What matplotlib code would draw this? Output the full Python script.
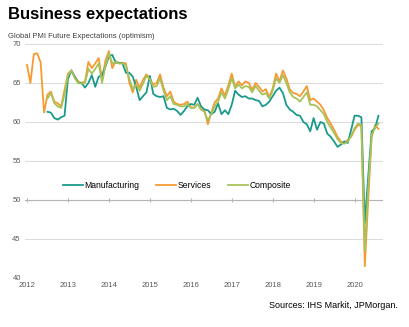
import numpy as np
import pandas as pd
import matplotlib
matplotlib.use("Agg")
import matplotlib.pyplot as plt

plt.rcParams['font.family'] = ['Liberation Sans', 'DejaVu Sans']

# monthly readings, Jan 2012 - Aug 2020
services = [67.3, 65.0, 68.7, 68.8, 67.6, 61.2, 63.5, 63.9, 62.6, 62.4, 62.0, 64.1,
            66.2, 66.6, 65.8, 65.2, 65.0, 65.2, 67.7, 66.9, 67.5, 68.2, 65.5, 67.9,
            69.1, 66.9, 67.8, 67.5, 67.6, 67.5, 65.0, 63.8, 65.4, 64.4, 65.4, 66.1,
            65.6, 64.8, 65.0, 66.1, 64.4, 63.3, 63.9, 62.6, 62.3, 62.2, 62.3, 62.6,
            61.9, 61.8, 62.3, 61.6, 61.5, 59.7, 61.2, 62.5, 63.0, 64.3, 63.4, 64.7,
            66.2, 64.5, 65.2, 64.7, 65.2, 65.0, 64.1, 65.0, 64.5, 63.9, 64.2, 63.2,
            64.3, 66.2, 65.2, 66.6, 65.6, 64.2, 63.7, 63.6, 63.3, 63.9, 64.6, 62.8,
            63.0, 62.6, 62.2, 61.5, 60.5, 59.8, 59.0, 58.1, 57.5, 57.3, 57.7, 58.1,
            59.0, 59.6, 59.5, 41.5, 50.0, 58.0, 59.6, 59.1]

nan = np.nan
manufacturing = [nan, nan, nan, nan, nan, nan, 61.3, 61.2, 60.5, 60.3, 60.6, 60.8,
                 65.5, 66.6, 65.8, 65.0, 65.0, 64.4, 65.0, 66.0, 64.5, 65.8, 66.0, 67.1,
                 68.4, 68.6, 67.6, 67.6, 67.5, 66.3, 66.3, 65.8, 64.5, 62.8, 63.3, 63.8,
                 65.9, 63.6, 63.3, 63.2, 63.3, 61.8, 61.6, 61.7, 61.4, 60.9, 61.4, 62.0,
                 62.3, 62.2, 63.1, 62.0, 61.6, 61.5, 61.0, 61.3, 62.4, 61.0, 61.5, 61.0,
                 62.2, 64.0, 63.5, 63.2, 63.3, 63.0, 63.0, 62.8, 62.7, 62.0, 62.2, 62.6,
                 63.3, 64.0, 64.4, 63.7, 62.2, 61.6, 61.3, 60.9, 60.8, 60.0, 59.7, 58.8,
                 60.5, 59.0, 60.0, 59.8, 58.5, 58.1, 57.5, 56.8, 57.1, 57.5, 57.3, 59.0,
                 60.8, 60.8, 60.6, 47.0, 53.0, 58.8, 59.2, 60.8]

composite = [nan, nan, nan, nan, nan, nan, 63.0, 63.7, 62.4, 62.0, 61.8, 63.5,
             66.0, 66.6, 65.6, 65.0, 64.9, 65.0, 66.8, 66.2, 66.8, 67.5, 65.0, 67.2,
             68.8, 67.5, 67.7, 67.5, 67.5, 67.3, 65.5, 64.2, 64.8, 64.0, 64.9, 65.9,
             65.5, 64.5, 64.6, 65.6, 64.0, 62.8, 63.3, 62.3, 62.2, 62.0, 62.0, 62.3,
             61.8, 61.8, 62.3, 61.6, 61.3, 60.2, 61.0, 62.0, 62.6, 63.8, 63.0, 64.2,
             65.6, 64.3, 64.8, 64.3, 64.6, 64.5, 63.8, 64.6, 64.0, 63.5, 63.7, 63.0,
             64.0, 65.6, 65.0, 66.0, 65.0, 63.8, 63.2, 63.0, 62.6, 63.2, 63.8, 62.2,
             62.2, 62.0, 61.5, 61.0, 60.0, 59.3, 58.6, 57.8, 57.3, 57.2, 57.5, 58.2,
             59.2, 59.8, 59.6, 43.5, 51.5, 58.3, 59.3, 59.8]

years = list(range(2012, 2021))
y_ticks = [40, 45, 50, 55, 60, 65, 70]

dates = pd.date_range('2012-01-01', periods=len(services), freq='MS')
x = dates.year + (dates.month - 1) / 12.0

fig = plt.figure(figsize=(4.09, 3.27), dpi=100)
ax = fig.add_axes([0.061, 0.150, 0.875, 0.7156])

for yv in y_ticks:
    ax.axhline(yv, color='#dcdcdc', lw=0.8, zorder=0)
ax.axhline(50, color='#b5b5b5', lw=0.8, zorder=1)
ax.vlines(years, 49.75, 50.25, color='#b5b5b5', lw=0.8, zorder=1)

ax.plot(x, manufacturing, color='#1b9a8c', lw=1.3, label='Manufacturing', zorder=3)
ax.plot(x, services, color='#f59b32', lw=1.3, label='Services', zorder=2)
ax.plot(x, composite, color='#a8c25a', lw=1.3, label='Composite', zorder=4)

ax.set_xlim(2011.95, 2020.69)
ax.set_ylim(40, 70)
ax.set_xticks(years)
ax.set_yticks(y_ticks)
ax.tick_params(length=0, labelsize=5.5, colors='#595959', pad=3)
for s in ax.spines.values():
    s.set_visible(False)

ax.legend(loc='center', bbox_to_anchor=(0.424, 0.393), ncol=3, frameon=False,
          fontsize=6.2, handlelength=2.3, handletextpad=0.15, columnspacing=2.0)

fig.text(0.02, 0.955, 'Business expectations', fontsize=12, fontweight='bold',
         va='center', ha='left')
fig.text(0.02, 0.888, 'Global PMI Future Expectations (optimism)', fontsize=5.5,
         color='#404040', va='center', ha='left')
fig.text(0.972, 0.067, 'Sources: IHS Markit, JPMorgan.', fontsize=6.5,
         va='center', ha='right')

fig.savefig('out.png', dpi=100)
